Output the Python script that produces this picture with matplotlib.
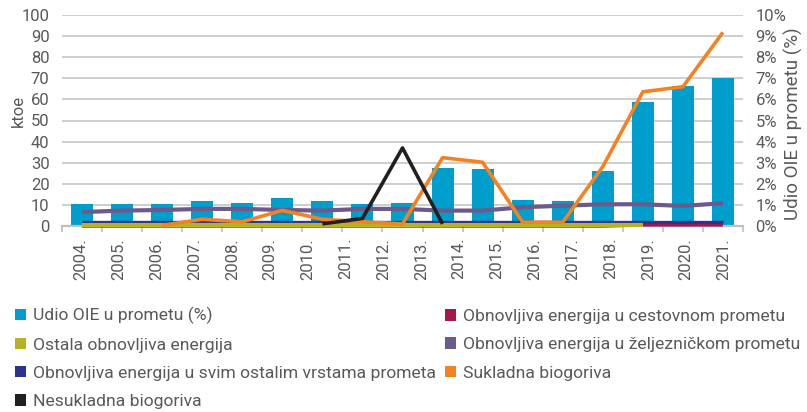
import matplotlib
matplotlib.use("Agg")
import matplotlib.pyplot as plt
from matplotlib.patches import Patch
import numpy as np

# ---- data ----
year_labels = ["2004.", "2005.", "2006.", "2007.", "2008.", "2009.", "2010.", "2011.", "2012.",
               "2013.", "2014.", "2015.", "2016.", "2017.", "2018.", "2019.", "2020.", "2021."]
n_points = 17
udio_pct = [1.04, 1.04, 1.04, 1.17, 1.10, 1.31, 1.17, 1.04, 1.10,
            2.76, 2.70, 1.23, 1.17, 2.62, 5.89, 6.63, 7.00]
cestovni = [0.0] * 14 + [0.5, 0.5, 0.5]
ostala = [0.3] * 15 + [np.nan, np.nan]
ostali_promet = [1.7] * 17
zeljeznicki = [6.6, 7.3, 7.6, 8.1, 8.1, 7.6, 7.3, 8.1, 8.1,
               7.3, 7.3, 8.9, 9.6, 10.3, 10.3, 9.5, 10.8]
sukladna = [np.nan, np.nan, 0.3, 3.2, 2.0, 7.4, 3.2, 2.0, 1.0,
            32.4, 30.2, 1.8, 1.8, 28.1, 63.6, 66.0, 91.8]
nesukladna = [np.nan] * 6 + [1.0, 3.6, 37.0, 1.0] + [np.nan] * 7

labels = ["Udio OIE u prometu (%)", "Ostala obnovljiva energija",
          "Obnovljiva energija u svim ostalim vrstama prometa", "Nesukladna biogoriva",
          "Obnovljiva energija u cestovnom prometu", "Obnovljiva energija u željezničkom prometu",
          "Sukladna biogoriva"]

c_bar = "#009ECC"
c_cest = "#A6174D"
c_ost = "#B8B225"
c_navy = "#2E3192"
c_purple = "#6C5A8C"
c_orange = "#F58220"
c_black = "#231F20"
c_text = "#595959"
c_grid = "#C6C6C6"

plt.rcParams['font.family'] = ['Roboto', 'DejaVu Sans']
plt.rcParams['font.size'] = 12

fig = plt.figure(figsize=(8.07, 4.12), dpi=100)
ax = fig.add_axes([62 / 807, 1 - 226 / 412, (743 - 62) / 807, (226 - 15) / 412])
ax2 = ax.twinx()

x = np.arange(n_points)

# bars on the right axis (%)
ax2.bar(x, udio_pct, width=0.55, color=c_bar, zorder=1)
ax2.set_ylim(0, 10)
ax2.set_yticks(np.arange(0, 11, 1))
ax2.set_yticklabels([f"{v}%" for v in range(0, 11)])

# lines on the left axis (ktoe)
ax.set_zorder(ax2.get_zorder() + 1)
ax.patch.set_visible(False)
ax.plot(x, cestovni, color=c_cest, lw=2.4, solid_capstyle='butt', clip_on=False, zorder=3)
ax.plot(x, ostali_promet, color=c_navy, lw=2.4, solid_capstyle='butt', clip_on=False, zorder=4)
ax.plot(x, ostala, color=c_ost, lw=3.0, solid_capstyle='butt', clip_on=False, zorder=5)
ax.plot(x, zeljeznicki, color=c_purple, lw=3.0, solid_capstyle='butt', zorder=6)
ax.plot(x, sukladna, color=c_orange, lw=2.6, solid_capstyle='butt', clip_on=False, zorder=7)
ax.plot(x, nesukladna, color=c_black, lw=2.6, solid_capstyle='butt', clip_on=False, zorder=8)

ax.set_ylim(0, 100)
ax.set_yticks(np.arange(0, 101, 10))
ax.set_xlim(-0.5, n_points - 0.5)

# gridlines drawn on ax2 (behind bars)
ax2.grid(axis='y', color=c_grid, lw=1.2, zorder=0)
ax2.set_axisbelow(True)
ax.grid(False)

# x axis: tick marks at category boundaries, labels spread evenly
ax.set_xticks(np.arange(-0.5, n_points, 1.0), minor=True)
span = n_points
lab_pos = [-0.5 + (i + 0.5) * span / len(year_labels) for i in range(len(year_labels))]
ax.set_xticks(lab_pos)
ax.set_xticklabels(year_labels, rotation=90, color=c_text)
ax.tick_params(axis='x', which='major', length=0, pad=8.5)
ax.tick_params(axis='x', which='minor', length=4, width=1.2, color="#BFBFBF")
ax2.tick_params(axis='x', which='both', length=0)

ax.tick_params(axis='y', length=0, pad=9, labelcolor=c_text)
ax2.tick_params(axis='y', length=0, pad=9, labelcolor=c_text)

for a in (ax, ax2):
    for s in ("top", "left", "right"):
        a.spines[s].set_visible(False)
ax2.spines["bottom"].set_visible(False)
ax.spines["bottom"].set_color("#BFBFBF")
ax.spines["bottom"].set_linewidth(1.6)

ax.set_ylabel("ktoe", color=c_text)
ax.yaxis.set_label_coords(-0.053, 0.545)
ax2.set_ylabel("Udio OIE u prometu (%)", color=c_text, fontsize=13.5)
ax2.yaxis.set_label_coords(1.060, 0.483)

# legends
colors = [c_bar, c_ost, c_navy, c_black, c_cest, c_purple, c_orange]
handles = [Patch(facecolor=c, edgecolor='none') for c in colors]
kw = dict(frameon=False, borderpad=0, borderaxespad=0, handlelength=0.62,
          handleheight=0.62, handletextpad=0.42, labelspacing=0.76,
          loc='upper left', labelcolor=c_text, fontsize=12.6)
fig.legend(handles[:4], labels[:4], bbox_to_anchor=(15 / 807, 1 - 307 / 412), **kw)
fig.legend(handles[4:], labels[4:], bbox_to_anchor=(445 / 807, 1 - 309 / 412), **kw)

fig.savefig("out.png", dpi=100)
